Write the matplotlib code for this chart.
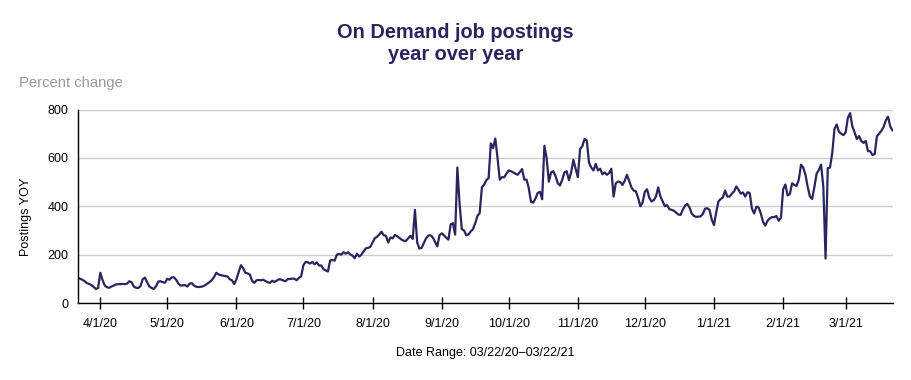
import matplotlib
matplotlib.use('Agg')
import matplotlib.pyplot as plt
import pandas as pd

start_date = '2020-03-22'

# Daily YoY percent change in On Demand job postings (03/22/20 - 03/22/21)
postings_yoy = [
    104, 100, 96, 90, 82, 79, 74, 67, 58, 62,
    125, 95, 72, 65, 63, 68, 72, 77, 78, 78,
    79, 78, 80, 90, 86, 68, 63, 62, 70, 98,
    105, 85, 68, 62, 58, 70, 89, 90, 86, 84,
    100, 96, 106, 106, 96, 80, 72, 73, 74, 68,
    80, 82, 72, 67, 66, 67, 69, 74, 80, 87,
    95, 108, 125, 118, 115, 113, 111, 110, 98, 94,
    78, 98, 128, 156, 144, 125, 122, 118, 92, 83,
    94, 95, 94, 96, 91, 86, 83, 92, 87, 92,
    98, 97, 93, 90, 99, 99, 101, 100, 94, 104,
    110, 156, 170, 168, 163, 170, 160, 168, 155, 155,
    140, 135, 130, 176, 178, 175, 200, 203, 200, 210,
    204, 210, 201, 196, 185, 204, 192, 200, 214, 226,
    228, 232, 250, 268, 274, 283, 295, 280, 278, 250,
    271, 267, 281, 276, 269, 262, 257, 257, 268, 278,
    265, 385, 250, 225, 228, 248, 268, 279, 280, 271,
    252, 234, 280, 288, 280, 270, 262, 325, 330, 283,
    560, 410, 305, 300, 280, 284, 296, 305, 330, 360,
    372, 478, 490, 508, 516, 660, 640, 680, 600, 510,
    520, 520, 535, 548, 545, 540, 535, 530, 541, 554,
    510, 510, 475, 418, 415, 432, 455, 460, 429, 650,
    600, 502, 540, 545, 525, 495, 486, 510, 540, 545,
    508, 540, 592, 555, 520, 637, 648, 678, 672, 580,
    560, 548, 575, 548, 555, 532, 540, 530, 537, 555,
    440, 495, 502, 500, 488, 505, 530, 505, 478, 465,
    462, 435, 400, 415, 460, 470, 435, 420, 425, 440,
    478, 440, 420, 400, 405, 388, 385, 382, 374, 366,
    364, 385, 402, 410, 396, 370, 360, 356, 357, 358,
    368, 390, 392, 385, 345, 322, 375, 420, 430, 436,
    465, 440, 440, 452, 461, 482, 468, 452, 457, 440,
    458, 455, 390, 370, 398, 395, 370, 335, 320, 340,
    350, 355, 355, 360, 340, 352, 470, 490, 445, 450,
    495, 488, 484, 509, 572, 560, 530, 480, 440, 430,
    480, 535, 550, 572, 480, 184, 558, 560, 620, 720,
    738, 708, 700, 694, 705, 765, 785, 730, 706, 678,
    690, 670, 662, 670, 628, 627, 612, 615, 689, 700,
    712, 728, 755, 770, 730, 714,
]

tick_dates = ['2020-04-01', '2020-05-01', '2020-06-01', '2020-07-01',
              '2020-08-01', '2020-09-01', '2020-10-01', '2020-11-01',
              '2020-12-01', '2021-01-01', '2021-02-01', '2021-03-01']
tick_labels = ['4/1/20', '5/1/20', '6/1/20', '7/1/20', '8/1/20', '9/1/20',
               '10/1/20', '11/1/20', '12/1/20', '1/1/21', '2/1/21', '3/1/21']
y_ticks = [0, 200, 400, 600, 800]

title = 'On Demand job postings\nyear over year'
subtitle = 'Percent change'
y_label = 'Postings YOY'
footer = 'Date Range: 03/22/20\u201303/22/21'

navy = '#29265f'

plt.rcParams['font.family'] = ['Liberation Sans', 'DejaVu Sans']

W, H = 911, 380
fig = plt.figure(figsize=(W / 100, H / 100), dpi=100)
ax_l, ax_r, ax_t, ax_b = 78, 892.5, 109.5, 303
ax = fig.add_axes([ax_l / W, 1 - ax_b / H, (ax_r - ax_l) / W, (ax_b - ax_t) / H])

dates = pd.date_range(start_date, periods=len(postings_yoy), freq='D')
ax.plot(dates, postings_yoy, color=navy, lw=1.6, solid_joinstyle='round')

ax.set_xlim(dates[0], dates[-1])
ax.set_ylim(0, 800)
ax.set_yticks(y_ticks)
ax.set_xticks(pd.to_datetime(tick_dates))
ax.set_xticklabels(tick_labels)

ax.grid(axis='y', color='#cccccc', lw=1)
ax.set_axisbelow(True)
for s in ['top', 'right']:
    ax.spines[s].set_visible(False)
for s in ['left', 'bottom']:
    ax.spines[s].set_color('black')
    ax.spines[s].set_linewidth(1)

ax.tick_params(axis='x', direction='inout', length=9, width=1, labelsize=9,
               pad=6.5, colors='black')
ax.tick_params(axis='y', length=0, labelsize=9, pad=7, colors='black')

fig.text(455.3 / W, 1 - 43 / H, title, ha='center', va='center',
         fontsize=14.4, fontweight='bold', color=navy, linespacing=1.2)
fig.text(19 / W, 1 - 83 / H, subtitle, ha='left', va='center',
         fontsize=10.6, color='#999999')
fig.text(26 / W, 1 - 216.5 / H, y_label, ha='center', va='center',
         rotation=90, fontsize=9, color='black')
fig.text((ax_l + ax_r) / 2 / W, 1 - 353 / H, footer, ha='center', va='center',
         fontsize=9, color='black')

fig.savefig('out.png', dpi=100)
